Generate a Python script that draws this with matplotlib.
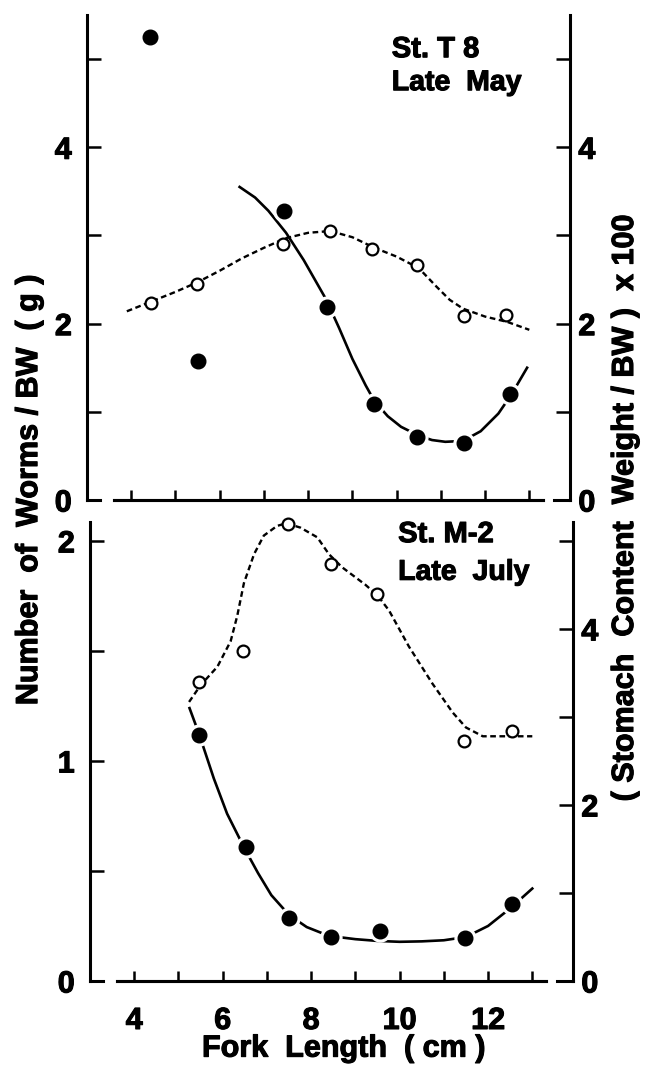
import matplotlib.pyplot as plt
import matplotlib.patheffects as pe

plt.rcParams['font.family'] = ['Liberation Sans', 'DejaVu Sans']
plt.rcParams['font.weight'] = 'bold'

# ---- St. T 8, late May ----
may_x_worms = [4.43, 5.5, 7.45, 8.43, 9.48, 10.47, 11.52, 12.57]
may_worms = [5.25, 1.58, 3.28, 2.19, 1.09, 0.72, 0.65, 1.20]
may_x_stom = [4.45, 5.48, 7.43, 8.5, 9.45, 10.45, 11.52, 12.48]
may_stom = [2.23, 2.45, 2.90, 3.05, 2.85, 2.67, 2.09, 2.10]
# hand drawn curves
may_fit_worms_x = [6.45, 6.8, 7.1, 7.5, 7.9, 8.4, 8.7, 9.0, 9.3, 9.5, 9.8,
                   10.1, 10.5, 10.8, 11.1, 11.5, 11.9, 12.3, 12.6, 12.95]
may_fit_worms = [3.55, 3.43, 3.28, 3.03, 2.72, 2.28, 1.95, 1.6, 1.3, 1.12, 0.95,
                 0.83, 0.73, 0.68, 0.66, 0.67, 0.78, 0.98, 1.2, 1.5]
may_fit_stom_x = [3.9, 4.45, 5.0, 5.5, 6.0, 6.5, 7.0, 7.5, 8.0, 8.5, 9.0, 9.5,
                  10.0, 10.5, 10.9, 11.2, 11.5, 12.0, 12.5, 13.0]
may_fit_stom = [2.14, 2.25, 2.36, 2.47, 2.6, 2.74, 2.86, 2.97, 3.03, 3.05, 2.98, 2.86,
                2.76, 2.63, 2.42, 2.27, 2.17, 2.08, 2.02, 1.93]

# ---- St. M-2, late July ----
jul_x_worms = [5.47, 6.52, 7.5, 8.45, 9.55, 11.48, 12.54]
jul_worms = [1.12, 0.61, 0.285, 0.20, 0.225, 0.195, 0.35]
jul_x_stom = [5.47, 6.47, 7.47, 8.45, 9.49, 11.46, 12.54]
jul_stom = [3.40, 3.75, 5.19, 4.74, 4.40, 2.73, 2.84]
jul_fit_worms_x = [5.25, 5.47, 5.8, 6.1, 6.5, 6.8, 7.1, 7.5, 7.9, 8.4, 9.0, 9.5,
                   10.0, 10.5, 11.0, 11.5, 12.0, 12.5, 13.0]
jul_fit_worms = [1.24, 1.12, 0.92, 0.76, 0.60, 0.49, 0.39, 0.30, 0.245, 0.205, 0.19, 0.182,
                 0.178, 0.18, 0.185, 0.2, 0.25, 0.33, 0.42]
jul_fit_stom_x = [5.24, 5.5, 5.88, 6.18, 6.33, 6.48, 6.71, 6.93, 7.23, 7.44, 7.76, 8.14,
                  8.4, 8.7, 9.23, 9.5, 9.76, 10.21, 10.74, 11.2, 11.5, 11.88, 12.33, 13.0]
jul_fit_stom = [3.17, 3.36, 3.57, 3.86, 4.15, 4.52, 4.85, 5.06, 5.17, 5.20, 5.15, 5.04,
                4.85, 4.70, 4.50, 4.38, 4.21, 3.80, 3.38, 3.05, 2.88, 2.78, 2.78, 2.78]

x_ticks = list(range(4, 14))
x_labels = ['4', '', '6', '', '8', '', '10', '', '12', '']

FS = 22
heavy = [pe.withStroke(linewidth=0.8, foreground='black')]


def style(ax, ax2, yl, yl2, lticks, llabels, rticks, rlabels, xlabels):
    ax.set_xlim(3, 13.92)
    ax.set_ylim(*yl)
    ax2.set_ylim(*yl2)
    for a in (ax, ax2):
        a.spines['top'].set_visible(False)
        for s in a.spines.values():
            s.set_linewidth(2.2)
        a.spines['bottom'].set_bounds(3.6, 13.3)
    ax.spines['right'].set_visible(False)
    ax2.spines['left'].set_visible(False)
    ax.set_xticks(x_ticks)
    ax.set_xticklabels(xlabels)
    ax.set_yticks(lticks)
    ax.set_yticklabels(llabels)
    ax2.set_yticks(rticks)
    ax2.set_yticklabels(rlabels)
    ax.tick_params(axis='x', direction='in', length=7, width=1.8, labelsize=FS, pad=18)
    ax.tick_params(axis='y', direction='in', length=10, width=1.8, labelsize=FS, pad=11)
    ax2.tick_params(axis='y', direction='in', length=10, width=1.8, labelsize=FS, pad=6)
    for t in ax.get_xticklabels() + ax.get_yticklabels() + ax2.get_yticklabels():
        t.set_path_effects(heavy)
    # little feet at the lower corners
    tr = ax.get_xaxis_transform()
    ax.plot([3, 3.3], [0, 0], color='black', lw=2.2, transform=tr, clip_on=False)
    ax.plot([13.55, 13.92], [0, 0], color='black', lw=2.2, transform=tr, clip_on=False)


def draw(ax, ax2, xw, yw, fxw, fyw, xs, ys, fxs, fys):
    ax.plot(fxw, fyw, color='black', lw=1.9, zorder=1, solid_joinstyle='round')
    ax.plot(xw, yw, 'o', ms=15, color='white', zorder=2, clip_on=False)
    ax.plot(xw, yw, 'o', ms=10.5, color='black', zorder=3, clip_on=False)
    ax2.plot(fxs, fys, color='black', lw=1.7, dashes=(2.4, 1.5), zorder=1)
    ax2.plot(xs, ys, 'o', ms=8.5, mfc='white', mec='black', mew=1.6, zorder=3,
             clip_on=False)


def label(ax, x, y, s, size):
    ax.text(x, y, s, transform=ax.transAxes, fontsize=size, fontweight='bold',
            va='baseline', path_effects=heavy)


fig = plt.figure(figsize=(6.47, 10.70), dpi=100)

ax_t = fig.add_axes([0.1345, 0.5327, 0.7465, 0.4533])
ax_t.patch.set_visible(False)
ax_t2 = ax_t.twinx()
draw(ax_t, ax_t2, may_x_worms, may_worms, may_fit_worms_x, may_fit_worms,
     may_x_stom, may_stom, may_fit_stom_x, may_fit_stom)
style(ax_t, ax_t2, (0, 5.5), (0, 5.5),
      [0, 1, 2, 3, 4, 5], ['0', '', '2', '', '4', ''],
      [0, 1, 2, 3, 4, 5], ['0', '', '2', '', '4', ''],
      ['' for _ in x_ticks])
label(ax_t, 0.631, 0.913, 'St. T 8', 21)
label(ax_t, 0.631, 0.845, 'Late  May', 20.5)

ax_b = fig.add_axes([0.1391, 0.0832, 0.7465, 0.429])
ax_b2 = ax_b.twinx()
draw(ax_b, ax_b2, jul_x_worms, jul_worms, jul_fit_worms_x, jul_fit_worms,
     jul_x_stom, jul_stom, jul_fit_stom_x, jul_fit_stom)
style(ax_b, ax_b2, (0, 2.086), (0, 5.215),
      [0, 0.5, 1, 1.5, 2], ['0', '', '1', '', '2'],
      [0, 1, 2, 3, 4, 5], ['0', '', '2', '', '4', ''],
      x_labels)
label(ax_b, 0.638, 0.956, 'St. M-2', 21)
label(ax_b, 0.638, 0.874, 'Late  July', 20.5)

fig.text(0.531, 0.0125, 'Fork  Length  ( cm )', ha='center', va='baseline',
         fontsize=FS, fontweight='bold', path_effects=heavy)
fig.text(0.045, 0.542, 'Number  of  Worms / BW  ( g )', rotation=90,
         ha='center', va='center', fontsize=FS, fontweight='bold', path_effects=heavy)
fig.text(0.966, 0.525, '( Stomach  Content  Weight / BW )  x 100', rotation=90,
         ha='center', va='center', fontsize=FS, fontweight='bold', path_effects=heavy)

fig.savefig('out.png', dpi=100)
